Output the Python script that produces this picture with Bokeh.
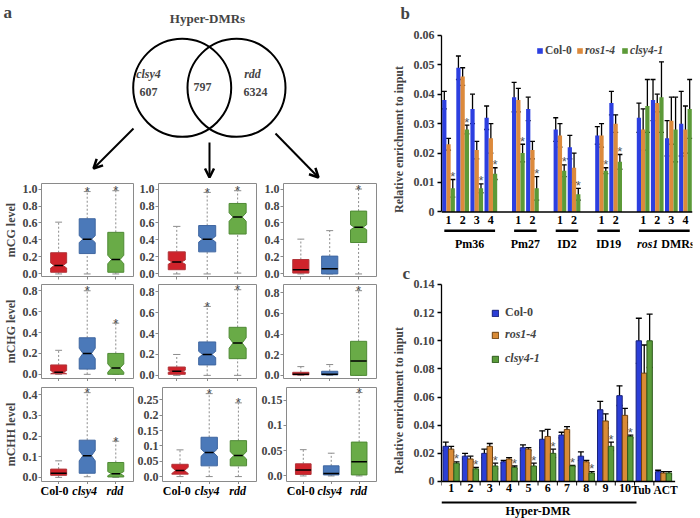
from bokeh.plotting import figure
from bokeh.layouts import row, column
from bokeh.models import (Range1d, FactorRange, FixedTicker, CustomJSTickFormatter, Label, LabelSet,
                          Arrow, OpenHead, Whisker, TeeHead, ColumnDataSource, Legend, LegendItem,
                          Span, Title)
from bokeh.transform import dodge
from bokeh.core.properties import value
from bokeh.embed import file_html
from bokeh.resources import INLINE

FONT = "Liberation Serif"

# ---------------- data ----------------
venn_title = "Hyper-DMRs"
venn_sets = ["clsy4", "rdd"]
venn_counts = [607, 797, 6324]          # clsy4 only, shared, rdd only

genotypes = ["Col-0", "clsy4", "rdd"]
contexts = ["mCG level", "mCHG level", "mCHH level"]
# indices: [context][DMR set: clsy4-only, shared, rdd-only][genotype]
whisker_lo = [
    [[0.0, 0.0, 0.0], [0.0, 0.0, 0.01], [0.0, 0.0, 0.0]],
    [[0.0, 0.0, 0.0], [0.0, 0.0, 0.0], [0.0, 0.0, 0.0]],
    [[0.0, 0.003, 0.0], [0.0, 0.0, 0.0], [0.0, 0.0, 0.0]],
]
quart1 = [
    [[0.02, 0.24, 0.02], [0.05, 0.26, 0.47], [0.01, 0.0, 0.37]],
    [[0.005, 0.05, 0.0], [0.01, 0.10, 0.16], [0.005, 0.005, 0.0]],
    [[0.01, 0.02, 0.002], [0.008, 0.035, 0.035], [0.003, 0.002, 0.002]],
]
medians = [
    [[0.10, 0.41, 0.17], [0.14, 0.41, 0.67], [0.05, 0.06, 0.55]],
    [[0.02, 0.20, 0.06], [0.04, 0.20, 0.31], [0.01, 0.01, 0.14]],
    [[0.02, 0.105, 0.018], [0.02, 0.078, 0.069], [0.012, 0.005, 0.028]],
]
quart3 = [
    [[0.25, 0.65, 0.49], [0.26, 0.57, 0.83], [0.17, 0.21, 0.74]],
    [[0.09, 0.35, 0.20], [0.08, 0.32, 0.46], [0.03, 0.04, 0.33]],
    [[0.04, 0.18, 0.072], [0.04, 0.128, 0.117], [0.024, 0.02, 0.067]],
]
whisker_hi = [
    [[0.61, 0.97, 0.98], [0.56, 0.96, 0.98], [0.41, 0.51, 1.0]],
    [[0.23, 0.80, 0.49], [0.20, 0.66, 0.82], [0.085, 0.105, 0.82]],
    [[0.08, 0.41, 0.175], [0.087, 0.27, 0.24], [0.052, 0.045, 0.165]],
]
notch_half = [
    [[0.03, 0.04, 0.05], [0.025, 0.035, 0.05], [0.0, 0.0, 0.03]],
    [[0.015, 0.05, 0.04], [0.01, 0.03, 0.05], [0.0, 0.0, 0.0]],
    [[0.0, 0.025, 0.01], [0.01, 0.012, 0.012], [0.0, 0.0, 0.0]],
]
box_signif = [[False, True, True], [False, True, True], [False, False, True]]   # per DMR set
box_ticks = [
    [[0, 0.2, 0.4, 0.6, 0.8, 1.0]] * 3,
    [[0, 0.2, 0.4, 0.6, 0.8]] * 3,
    [[0, 0.1, 0.2, 0.3, 0.4], [0, 0.05, 0.1, 0.15, 0.2, 0.25], [0, 0.05, 0.1, 0.15]],
]
box_tick_labels = [
    [["0.0", "0.2", "0.4", "0.6", "0.8", "1.0"]] * 3,
    [["0.0", "0.2", "0.4", "0.6", "0.8"]] * 3,
    [["0.0", "0.1", "0.2", "0.3", "0.4"], ["0.0", "0.05", "0.1", "0.15", "0.2", "0.25"],
     ["0.0", "0.05", "0.1", "0.15"]],
]

b_groups = ["Pm36", "Pm27", "ID2", "ID19", "ros1 DMRs"]
b_sites = [["1", "2", "3", "4"], ["1", "2"], ["1", "2"], ["1", "2"], ["1", "2", "3", "4"]]
b_col0 = [0.038, 0.049, 0.035, 0.032, 0.039, 0.035, 0.028, 0.022, 0.026, 0.037, 0.032, 0.038, 0.025, 0.030]
b_col0_err = [0.003, 0.004, 0.005, 0.004, 0.005, 0.004, 0.004, 0.004, 0.003, 0.004, 0.005, 0.007, 0.006, 0.011]
b_ros1 = [0.023, 0.046, 0.021, 0.025, 0.038, 0.021, 0.026, 0.015, 0.026, 0.030, 0.028, 0.037, 0.031, 0.028]
b_ros1_err = [0.002, 0.003, 0.003, 0.005, 0.004, 0.003, 0.004, 0.005, 0.004, 0.003, 0.007, 0.003, 0.008, 0.008]
b_clsy4 = [0.008, 0.028, 0.008, 0.013, 0.020, 0.008, 0.014, 0.006, 0.014, 0.017, 0.036, 0.039, 0.028, 0.035]
b_clsy4_err = [0.003, 0.0015, 0.0015, 0.002, 0.003, 0.004, 0.002, 0.002, 0.001, 0.0025, 0.009, 0.012, 0.011, 0.010]
b_signif = [True] * 10 + [False] * 4
b_yticks = [0, 0.01, 0.02, 0.03, 0.04, 0.05, 0.06]
b_yticklabels = ["0", "0.01", "0.02", "0.03", "0.04", "0.05", "0.06"]

c_cats = ["1", "2", "3", "4", "5", "6", "7", "8", "9", "10", "Tub", "ACT"]
c_group = "Hyper-DMR"
c_group_size = 10
c_col0 = [0.025, 0.018, 0.020, 0.014, 0.024, 0.030, 0.033, 0.018, 0.051, 0.061, 0.100, 0.007]
c_col0_err = [0.003, 0.002, 0.003, 0.001, 0.002, 0.006, 0.002, 0.003, 0.006, 0.007, 0.016, 0.001]
c_ros1 = [0.023, 0.016, 0.025, 0.016, 0.023, 0.032, 0.037, 0.014, 0.043, 0.047, 0.077, 0.006]
c_ros1_err = [0.002, 0.002, 0.002, 0.001, 0.001, 0.005, 0.002, 0.001, 0.005, 0.005, 0.020, 0.001]
c_clsy4 = [0.013, 0.009, 0.011, 0.010, 0.011, 0.020, 0.011, 0.006, 0.025, 0.032, 0.100, 0.006]
c_clsy4_err = [0.001, 0.001, 0.002, 0.001, 0.002, 0.003, 0.0005, 0.001, 0.003, 0.001, 0.019, 0.001]
c_signif = [True] * 10 + [False, False]
c_yticks = [0, 0.02, 0.04, 0.06, 0.08, 0.10, 0.12, 0.14]
c_yticklabels = ["0", "0.02", "0.04", "0.06", "0.08", "0.10", "0.12", "0.14"]

series_names = ["Col-0", "ros1-4", "clsy4-1"]

# ---------------- styles / layout ----------------
BOX_FILL = ["#cf232b", "#4b79b9", "#69ab47"]
BOX_LINE = ["#b0353a", "#3f66a0", "#4f8a35"]
GENO_ITALIC = [False, True, True]
FRAME_GREY = "#8a8a8a"
WHISK_GREY = "#8c8c8c"
B_COLORS = ["#2c3fe0", "#dc8a3c", "#5c9a38"]
C_COLORS = ["#2b3ed6", "#d98b36", "#5a9b3a"]
C_LINES = ["#18227a", "#6e4211", "#2d5a1c"]

COL_W = [134, 124, 126]
COL_BL = [36, 24, 25]
COL_BR = [1, 2, 8]
ROW_H = [98, 101, 103]
ROW_BT = [1, 4, 6]
ROW_BB = [4, 3, 3]
STRIP_H = 34
Y_RANGES = [
    [(-0.03, 1.065), (-0.03, 1.065), (-0.03, 1.065)],
    [(-0.04, 0.86), (-0.03, 0.87), (-0.03, 0.88)],
    [(-0.02, 0.435), (-0.016, 0.29), (-0.011, 0.175)],
]
BOX_HW = 0.28
NOTCH_DEPTH = 0.13
CAP_HW = 0.12


def tick_formatter(ticks, labels):
    return CustomJSTickFormatter(args=dict(tvals=list(ticks), tlabs=list(labels)), code="""
        for (let i = 0; i < tvals.length; i++) {
            if (Math.abs(tvals[i] - tick) < 1e-9) return tlabs[i];
        }
        return "";
    """)


def notched_box(x, q1, med, q3, n):
    n = max(0.0, min(n, med - q1, q3 - med))
    w = BOX_HW
    if n <= 0:
        return [x - w, x + w, x + w, x - w], [q1, q1, q3, q3], w
    d = NOTCH_DEPTH
    xs = [x - w, x + w, x + w, x + w - d, x + w, x + w, x - w, x - w, x - w + d, x - w]
    ys = [q1, q1, med - n, med, med + n, q3, q3, med + n, med, med - n]
    return xs, ys, w - d


def box_panel(r, c, xr):
    p = figure(width=COL_W[c], height=ROW_H[r], x_range=xr,
               y_range=Range1d(*Y_RANGES[r][c]), toolbar_location=None, output_backend="svg",
               min_border_left=COL_BL[c], min_border_right=COL_BR[c],
               min_border_top=ROW_BT[r], min_border_bottom=ROW_BB[r])
    p.grid.visible = False
    p.outline_line_color = FRAME_GREY
    xs = [i + 1 for i in range(len(genotypes))]
    lo = whisker_lo[r][c]
    q1 = quart1[r][c]
    md = medians[r][c]
    q3 = quart3[r][c]
    hi = whisker_hi[r][c]
    nh = notch_half[r][c]
    p.segment(x0=xs, y0=q3, x1=xs, y1=hi, line_color=WHISK_GREY, line_dash="2 2", line_width=1)
    p.segment(x0=xs, y0=lo, x1=xs, y1=q1, line_color=WHISK_GREY, line_dash="2 2", line_width=1)
    p.segment(x0=[x - CAP_HW for x in xs], y0=hi, x1=[x + CAP_HW for x in xs], y1=hi,
              line_color=WHISK_GREY, line_width=1)
    p.segment(x0=[x - CAP_HW for x in xs], y0=lo, x1=[x + CAP_HW for x in xs], y1=lo,
              line_color=WHISK_GREY, line_width=1)
    pxs, pys, mx0, mx1 = [], [], [], []
    for i, x in enumerate(xs):
        bx, by, mw = notched_box(x, q1[i], md[i], q3[i], nh[i])
        pxs.append(bx)
        pys.append(by)
        mx0.append(x - mw)
        mx1.append(x + mw)
    p.patches(pxs, pys, fill_color=BOX_FILL, line_color=BOX_LINE, line_width=1)
    p.segment(x0=mx0, y0=md, x1=mx1, y1=md, line_color="black", line_width=1.5)
    sx = [x for x, s in zip(xs, box_signif[c]) if s]
    sy = [h for h, s in zip(hi, box_signif[c]) if s]
    p.add_layout(LabelSet(x="x", y="y", text="t",
                          source=ColumnDataSource(dict(x=sx, y=sy, t=["*"] * len(sx))),
                          text_align="center", text_baseline="middle", y_offset=0,
                          text_font_size="13px", text_color="#444444"))
    ya = p.yaxis[0]
    ya.ticker = FixedTicker(ticks=box_ticks[r][c])
    ya.formatter = tick_formatter(box_ticks[r][c], box_tick_labels[r][c])
    ya.major_label_text_font = FONT
    ya.major_label_text_font_style = "bold"
    ya.major_label_text_font_size = "12px"
    ya.major_label_standoff = 1
    ya.major_tick_in = 0
    ya.major_tick_out = 3
    ya.major_tick_line_color = FRAME_GREY
    ya.minor_tick_line_color = None
    ya.axis_line_color = None
    if c == 0:
        ya.axis_label = contexts[r]
        ya.axis_label_text_font = FONT
        ya.axis_label_text_font_style = "bold"
        ya.axis_label_text_font_size = "12px"
        ya.axis_label_standoff = 2
    xa = p.xaxis[0]
    xa.ticker = FixedTicker(ticks=xs)
    xa.formatter = tick_formatter([], [])
    xa.major_label_text_font_size = "1px"
    xa.major_label_standoff = 0
    xa.major_tick_in = 0
    xa.major_tick_out = 3
    xa.major_tick_line_color = FRAME_GREY
    xa.minor_tick_line_color = None
    xa.axis_line_color = None
    return p


def label_strip(c, xr):
    s = figure(width=COL_W[c], height=STRIP_H, x_range=xr, y_range=Range1d(STRIP_H, 0),
               toolbar_location=None, output_backend="svg", x_axis_location=None,
               y_axis_location=None, min_border_left=COL_BL[c], min_border_right=COL_BR[c],
               min_border_top=0, min_border_bottom=0)
    s.outline_line_color = None
    s.grid.visible = False
    xs = [i + 1 for i in range(len(genotypes))]
    for italic in (False, True):
        sel = [i for i, it in enumerate(GENO_ITALIC) if it == italic]
        s.text(x=[xs[i] for i in sel], y=[6] * len(sel), text=[genotypes[i] for i in sel],
               text_align="center", text_baseline="middle", text_font=value(FONT),
               text_font_style="bold italic" if italic else "bold", text_font_size="12px")
    return s


# ---------------- panel a: Venn ----------------
VENN_W, VENN_H = 384, 182
venn = figure(width=VENN_W, height=VENN_H, x_range=Range1d(0, VENN_W),
              y_range=Range1d(VENN_H, 0), toolbar_location=None, output_backend="svg",
              x_axis_location=None, y_axis_location=None, min_border=0)
venn.outline_line_color = None
venn.grid.visible = False
VENN_CX = [181.7, 236.0]
VENN_CY = 87.3
VENN_R = 49
venn.circle(x=VENN_CX, y=[VENN_CY] * 2, radius=VENN_R, fill_color=None, line_color="black",
            line_width=2)
venn.add_layout(Label(x=3, y=2, text="a", text_font=FONT, text_font_style="bold",
                      text_font_size="17px", text_baseline="top"))
venn.add_layout(Label(x=207, y=18, text=venn_title, text_font=FONT, text_font_style="bold",
                      text_font_size="13px", text_align="center", text_baseline="middle"))
for (tx, ty), name in zip([(148, 73), (252, 73)], venn_sets):
    venn.add_layout(Label(x=tx, y=ty, text=name, text_font=FONT, text_font_style="bold italic",
                          text_font_size="12px", text_align="center", text_baseline="middle"))
for (tx, ty), n in zip([(148, 91), (202, 86), (255, 91)], venn_counts):
    venn.add_layout(Label(x=tx, y=ty, text=str(n), text_font=FONT, text_font_style="bold",
                          text_font_size="12px", text_align="center", text_baseline="middle"))
for (x0, y0), (x1, y1) in [((133, 128), (93, 168)), ((209, 142), (209, 177)),
                           ((275, 133), (318, 177))]:
    venn.add_layout(Arrow(x_start=x0, y_start=y0, x_end=x1, y_end=y1, line_width=2,
                          end=OpenHead(size=9, line_width=2.5, line_color="black")))

box_xr = [Range1d(0.4, 3.62) for _ in range(3)]
boxes = [[box_panel(r, c, box_xr[c] if r == 2 else Range1d(0.4, 3.62)) for c in range(3)]
         for r in range(3)]
strips = [label_strip(c, box_xr[c]) for c in range(3)]

# ---------------- shared bar helpers ----------------


def add_bars(p, xr, factors, vals, errs, colors, width, offsets, line_colors, cap, signif):
    data = dict(x=factors)
    keys = ["s0", "s1", "s2"]
    for k, v, e in zip(keys, vals, errs):
        data[k] = v
        data[k + "_lo"] = [a - b for a, b in zip(v, e)]
        data[k + "_hi"] = [a + b for a, b in zip(v, e)]
    src = ColumnDataSource(data)
    rends = []
    for k, col, off, lc in zip(keys, colors, offsets, line_colors):
        rends.append(p.vbar(x=dodge("x", off, range=xr), top=k, width=width, source=src,
                            fill_color=col, line_color=lc, line_width=1))
    for k, off in zip(keys, offsets):
        p.add_layout(Whisker(source=src, base=dodge("x", off, range=xr), upper=k + "_hi",
                             lower=k + "_lo", line_color="black", line_width=1.3,
                             upper_head=TeeHead(size=cap, line_width=1.3, line_color="black"),
                             lower_head=TeeHead(size=cap, line_width=1.3, line_color="black")))
    star_src = ColumnDataSource(dict(
        x=[f for f, s in zip(factors, signif) if s],
        y=[h for h, s in zip(data["s2_hi"], signif) if s]))
    p.text(x=dodge("x", offsets[2], range=xr), y="y", text=value("*"), source=star_src,
           text_align="center", text_baseline="middle", y_offset=-3, text_font_size="13px",
           text_color="#555555")
    return rends


def style_yaxis(p, ticks, labels, bounds, label):
    ya = p.yaxis[0]
    ya.ticker = FixedTicker(ticks=ticks)
    ya.formatter = tick_formatter(ticks, labels)
    ya.bounds = bounds
    ya.major_label_text_font = FONT
    ya.major_label_text_font_style = "bold"
    ya.major_label_text_font_size = "12px"
    ya.major_label_standoff = 3
    ya.major_tick_in = 0
    ya.major_tick_out = 4
    ya.minor_tick_line_color = None
    ya.axis_line_width = 1.3
    ya.major_tick_line_width = 1.3
    ya.axis_label = label
    ya.axis_label_text_font = FONT
    ya.axis_label_text_font_style = "bold"
    ya.axis_label_text_font_size = "12px"
    ya.axis_label_standoff = 5


def panel_title(p, letter, offset, standoff):
    p.add_layout(Title(text=letter, align="left", offset=offset, standoff=standoff,
                       text_font=FONT, text_font_style="bold", text_font_size="17px",
                       vertical_align="bottom"), "above")


# ---------------- panel b ----------------
PB_W, PB_H = 316, 255
PB_BL, PB_BR, PB_BT, PB_BB = 57, 4, 21, 0
B_YMIN, B_YMAX = -0.014831, 0.064045
b_ppu = (PB_H - PB_BT - PB_BB) / (B_YMAX - B_YMIN)
b_factors = [(g, s) for g, sites in zip(b_groups, b_sites) for s in sites]
xr_b = FactorRange(factors=b_factors, group_padding=0.95, range_padding=0)
pb = figure(width=PB_W, height=PB_H, x_range=xr_b, y_range=Range1d(B_YMIN, B_YMAX),
            toolbar_location=None, output_backend="svg", x_axis_location=None,
            min_border_left=PB_BL, min_border_right=PB_BR, min_border_top=PB_BT,
            min_border_bottom=PB_BB)
pb.grid.visible = False
pb.outline_line_color = None
panel_title(pb, "b", -41, 2)

rb = add_bars(pb, xr_b, b_factors, [b_col0, b_ros1, b_clsy4],
              [b_col0_err, b_ros1_err, b_clsy4_err], B_COLORS, 0.3, [-0.3, 0.0, 0.3],
              [None, None, None], 5, b_signif)

pb.add_layout(Span(location=0, dimension="width", line_color="black", line_width=1.5))
site_src = ColumnDataSource(dict(x=b_factors, t=[f[1] for f in b_factors]))
pb.text(x="x", y=0, text="t", source=site_src, y_offset=4, text_align="center",
        text_baseline="top", text_font=value(FONT), text_font_style="bold",
        text_font_size="12px")
ul_src = ColumnDataSource(dict(first=[(g, s[0]) for g, s in zip(b_groups, b_sites)],
                               last=[(g, s[-1]) for g, s in zip(b_groups, b_sites)]))
b_ul_y = -19 / b_ppu
pb.segment(x0=dodge("first", -0.3, range=xr_b), x1=dodge("last", 0.3, range=xr_b),
           y0=b_ul_y, y1=b_ul_y, source=ul_src, line_color="black", line_width=2.5)
plain_groups = b_groups[:-1]
pb.text(x=plain_groups, y=[0] * len(plain_groups), text=plain_groups, y_offset=25,
        text_align="center", text_baseline="top", text_font=value(FONT),
        text_font_style="bold", text_font_size="12px")
gene, rest = b_groups[-1].split(" ", 1)
pb.text(x=[b_groups[-1]], y=[0], text=[gene], y_offset=25, x_offset=-6, text_align="right",
        text_baseline="top", text_font=value(FONT), text_font_style="bold italic",
        text_font_size="12px")
pb.text(x=[b_groups[-1]], y=[0], text=[rest], y_offset=25, x_offset=-3, text_align="left",
        text_baseline="top", text_font=value(FONT), text_font_style="bold",
        text_font_size="12px")
style_yaxis(pb, b_yticks, b_yticklabels, (0, 0.06), "Relative enrichment to input")

leg_common = dict(orientation="horizontal", label_text_font=FONT, label_text_font_size="11.5px",
                  glyph_width=7, glyph_height=7, label_standoff=2, spacing=6, padding=0,
                  margin=0, border_line_color=None, background_fill_alpha=0, label_height=12)
pb.add_layout(Legend(items=[LegendItem(label=value(series_names[0]), renderers=[rb[0]])],
                     location=(95, 199), label_text_font_style="bold", **leg_common))
pb.add_layout(Legend(items=[LegendItem(label=value(n), renderers=[r]) for n, r in
                            zip(series_names[1:], rb[1:])],
                     location=(135, 199), label_text_font_style="bold italic", **leg_common))

# ---------------- panel c ----------------
PC_W, PC_H = 316, 263
PC_BL, PC_BR, PC_BT, PC_BB = 55, 8, 27, 0
C_YMIN, C_YMAX = -0.02630, 0.14142
c_ppu = (PC_H - PC_BT - PC_BB) / (C_YMAX - C_YMIN)
C_PAD_FACTOR = " "        # empty slot so the last tick label has room
xr_c = FactorRange(factors=c_cats + [C_PAD_FACTOR], range_padding=0)
pc = figure(width=PC_W, height=PC_H, x_range=xr_c, y_range=Range1d(C_YMIN, C_YMAX),
            toolbar_location=None, output_backend="svg", x_axis_location=None,
            min_border_left=PC_BL, min_border_right=PC_BR, min_border_top=PC_BT,
            min_border_bottom=PC_BB)
pc.grid.visible = False
pc.outline_line_color = None
panel_title(pc, "c", -39, 0)
rc = add_bars(pc, xr_c, c_cats, [c_col0, c_ros1, c_clsy4],
              [c_col0_err, c_ros1_err, c_clsy4_err], C_COLORS, 0.28, [-0.28, 0.0, 0.28],
              C_LINES, 6, c_signif)
axis_src = ColumnDataSource(dict(first=[c_cats[0]], last=[c_cats[-1]]))
pc.segment(x0=dodge("first", -0.5, range=xr_c), x1=dodge("last", 0.6, range=xr_c),
           y0=0, y1=0, source=axis_src, line_color="black", line_width=1.5)
tick_src = ColumnDataSource(dict(x=c_cats))
c_tick_y = -4 / c_ppu
pc.segment(x0=dodge("x", -0.5, range=xr_c), x1=dodge("x", -0.5, range=xr_c), y0=0,
           y1=c_tick_y, source=tick_src, line_color="black", line_width=1)
hyper_cats = c_cats[:c_group_size]
ctrl_cats = c_cats[c_group_size:]
pc.text(x=hyper_cats, y=[0] * len(hyper_cats), text=hyper_cats, y_offset=3,
        text_align="center", text_baseline="top", text_font=value(FONT),
        text_font_style="bold", text_font_size="12px")
for cat, dx in zip(ctrl_cats, (-3, 2)):
    pc.text(x=[cat], y=[0], text=[cat], y_offset=3, x_offset=dx, text_align="center",
            text_baseline="top", text_font=value(FONT), text_font_style="bold",
            text_font_size="11.5px")
c_ul_y = -21 / c_ppu
grp_src = ColumnDataSource(dict(first=[c_cats[0]], last=[c_cats[c_group_size - 1]],
                                mid=[c_cats[c_group_size // 2 - 1]]))
pc.segment(x0=dodge("first", -0.5, range=xr_c), x1=dodge("last", 0.6, range=xr_c),
           y0=c_ul_y, y1=c_ul_y, source=grp_src, line_color="black", line_width=2)
pc.text(x=dodge("mid", 0.5, range=xr_c), y=0, text=value(c_group), source=grp_src,
        y_offset=23, text_align="center", text_baseline="top", text_font=value(FONT),
        text_font_style="bold", text_font_size="12px")
style_yaxis(pc, c_yticks, c_yticklabels, (0, 0.14), "Relative enrichment to input")
legc_common = dict(orientation="vertical", label_text_font=FONT, label_text_font_size="12px",
                   glyph_width=8, glyph_height=8, label_standoff=6, spacing=9, padding=0,
                   margin=0, border_line_color=None, background_fill_alpha=0, label_height=14)
pc.add_layout(Legend(items=[LegendItem(label=value(series_names[0]), renderers=[rc[0]])],
                     location=(50, 198), label_text_font_style="bold", **legc_common))
pc.add_layout(Legend(items=[LegendItem(label=value(n), renderers=[r]) for n, r in
                            zip(series_names[1:], rc[1:])],
                     location=(50, 152), label_text_font_style="bold italic", **legc_common))

left = column(venn, row(*boxes[0]), row(*boxes[1]), row(*boxes[2]), row(*strips))
right = column(pb, pc)
layout = row(left, right)

open("out.html", "w").write(file_html(layout, INLINE))
